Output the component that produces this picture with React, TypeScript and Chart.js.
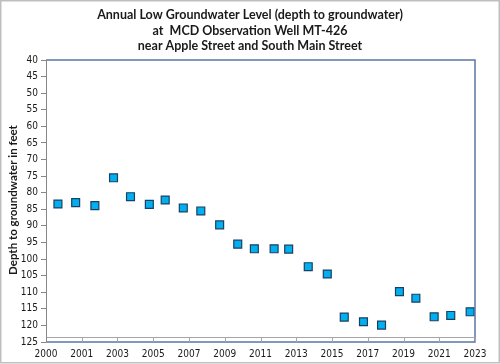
import React, { useEffect, useRef } from "react";
import { Chart, registerables } from "chart.js";

Chart.register(...registerables);

const titleLines = [
  "Annual Low Groundwater Level (depth to groundwater)",
  "at  MCD Observation Well MT-426",
  "near Apple Street and South Main Street",
];
const yAxisTitle = "Depth to groundwater in feet";

// decimal year of each annual low reading
const years = [
  2000.64, 2001.59, 2002.62, 2003.62, 2004.53, 2005.54, 2006.39, 2007.36,
  2008.3, 2009.31, 2010.28, 2011.17, 2012.23, 2013.01, 2014.06, 2015.08,
  2015.99, 2017.02, 2017.99, 2018.95, 2019.83, 2020.81, 2021.7, 2022.74,
];
// depth to groundwater (feet)
const depths = [
  83.4, 83.0, 83.9, 75.5, 81.2, 83.5, 82.2, 84.6, 85.5, 89.7, 95.5, 96.9,
  96.9, 97.0, 102.3, 104.5, 117.5, 118.9, 119.9, 109.8, 111.8, 117.4, 117.0,
  115.9,
];

const X_MIN = 2000;
const X_MAX = 2023;
const X_STEP = 23 / 12;
const Y_MIN = 40;
const Y_MAX = 125;
const Y_STEP = 5;

const LABEL_FONT = "'Liberation Sans Narrow', 'DejaVu Sans Condensed', sans-serif";
const TITLE_FONT = "Lato, 'Open Sans', sans-serif";

export default function App() {
  const ref = useRef<HTMLCanvasElement | null>(null);

  useEffect(() => {
    document.body.style.margin = "0";
    const canvas = ref.current;
    if (!canvas) return;

    const decor = {
      id: "decor",
      beforeDraw(chart: any) {
        const { ctx, width, height } = chart;
        ctx.save();
        ctx.fillStyle = "#ffffff";
        ctx.fillRect(0, 0, width, height);
        ctx.strokeStyle = "#bfbfbf";
        ctx.lineWidth = 1.5;
        ctx.strokeRect(0.75, 0.75, width - 1.5, height - 2);
        ctx.restore();
      },
      afterDraw(chart: any) {
        const { ctx, chartArea } = chart;
        const { left, right, top, bottom } = chartArea;
        ctx.save();
        // title
        ctx.fillStyle = "#1a1a1a";
        ctx.font = `bold 12.5px ${TITLE_FONT}`;
        ctx.textAlign = "center";
        ctx.textBaseline = "middle";
        const ys = [15, 30.5, 46];
        titleLines.forEach((t, i) => ctx.fillText(t, 250, ys[i]));
        // y axis title
        ctx.save();
        ctx.translate(13, (top + bottom) / 2 - 1);
        ctx.rotate(-Math.PI / 2);
        ctx.font = `bold 11.5px ${TITLE_FONT}`;
        ctx.fillText(yAxisTitle, 0, 0);
        ctx.restore();
        // plot border (top, right, bottom)
        ctx.strokeStyle = "#5b75a8";
        ctx.lineWidth = 1.5;
        ctx.beginPath();
        ctx.moveTo(left, top);
        ctx.lineTo(right, top);
        ctx.lineTo(right, bottom);
        ctx.lineTo(left, bottom);
        ctx.stroke();
        // x axis line slightly above bottom with ticks
        const xs = chart.scales.x;
        const axisY = bottom - 4.5;
        ctx.strokeStyle = "#a6a6a6";
        ctx.lineWidth = 1;
        ctx.beginPath();
        ctx.moveTo(left, axisY);
        ctx.lineTo(right, axisY);
        xs.ticks.forEach((_t: any, i: number) => {
          const px = Math.round(xs.getPixelForTick(i)) + 0.5;
          ctx.moveTo(px, axisY);
          ctx.lineTo(px, bottom);
        });
        ctx.stroke();
        // left axis line
        ctx.strokeStyle = "#868686";
        ctx.beginPath();
        ctx.moveTo(left + 0.5, top);
        ctx.lineTo(left + 0.5, bottom);
        ctx.stroke();
        ctx.restore();
      },
    };

    const chart = new Chart(canvas, {
      type: "scatter",
      data: {
        datasets: [
          {
            label: "Depth",
            data: years.map((x, i) => ({ x, y: depths[i] })),
            pointStyle: "rect",
            pointRadius: 5.6,
            pointHoverRadius: 5.6,
            backgroundColor: "#00b0f0",
            borderColor: "#1f3f5f",
            borderWidth: 1.2,
          },
        ],
      },
      options: {
        responsive: false,
        animation: false,
        events: [],
        layout: { padding: { left: 0, top: 60, right: 25, bottom: 0 } },
        plugins: {
          legend: { display: false },
          title: { display: false },
          tooltip: { enabled: false },
        },
        scales: {
          x: {
            type: "linear",
            min: X_MIN,
            max: X_MAX,
            afterBuildTicks(scale: any) {
              const t = [];
              for (let k = 0; k <= 12; k++) t.push({ value: X_MIN + k * X_STEP });
              scale.ticks = t;
            },
            afterFit(scale: any) {
              scale.height = 22;
            },
            border: { display: false },
            grid: { display: false, drawTicks: false },
            ticks: {
              padding: 6,
              maxRotation: 0,
              autoSkip: false,
              color: "#1a1a1a",
              font: { family: LABEL_FONT, size: 10 },
              callback: (v: any) => String(Math.floor(Number(v) + 0.01)),
            },
          },
          y: {
            type: "linear",
            reverse: true,
            min: Y_MIN,
            max: Y_MAX,
            afterFit(scale: any) {
              scale.width = 46;
            },
            border: { display: false },
            grid: {
              drawOnChartArea: false,
              drawTicks: true,
              tickLength: 5,
              color: "#868686",
            },
            ticks: {
              stepSize: Y_STEP,
              padding: 3,
              color: "#1a1a1a",
              font: { family: LABEL_FONT, size: 10 },
            },
          },
        },
      },
      plugins: [decor],
    });

    return () => chart.destroy();
  }, []);

  return (
    <div style={{ position: "relative", width: 500, height: 364 }}>
      <canvas ref={ref} width={500} height={364} style={{ display: "block", width: 500, height: 364 }} />
    </div>
  );
}
